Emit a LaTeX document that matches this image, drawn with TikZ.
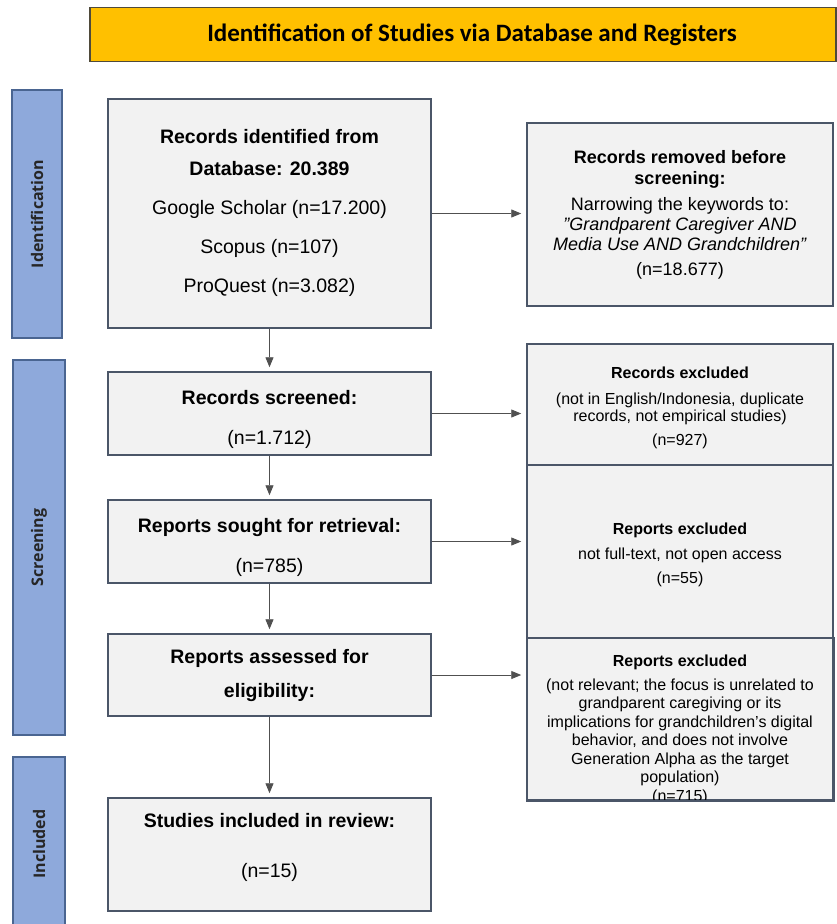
\documentclass[tikz,border=0pt]{standalone}
\usepackage{fontspec}
\setmainfont{Liberation Sans}
\newfontfamily\calibri{Carlito}
\newfontfamily\opensans{Open Sans}
\usetikzlibrary{arrows.meta}

\definecolor{bannergold}{HTML}{FFC000}
\definecolor{bannerrand}{HTML}{4F4A3A}
\definecolor{balkenblau}{HTML}{8EA9DB}
\definecolor{balkenrand}{HTML}{4A6591}
\definecolor{kastengrau}{HTML}{F2F2F2}
\definecolor{kastenrand}{HTML}{4B5668}
\definecolor{pfeilgrau}{HTML}{505050}

\tikzset{
  kasten/.style={draw=kastenrand, line width=1.5pt, fill=kastengrau, align=center, inner sep=0pt},
  balken/.style={draw=balkenrand, line width=1.5pt, fill=balkenblau, rotate=90, inner sep=0pt,
    font=\opensans\bfseries\fontsize{16}{18}\selectfont, text=black!85},
  pfeil/.style={-{Triangle[length=10pt,width=8pt]}, line width=0.9pt, draw=pfeilgrau, fill=black},
  linksfont/.style={font=\fontsize{19.5}{39}\selectfont},
  rechtsfont/.style={font=\fontsize{16}{18.5}\selectfont},
}

\begin{document}
\begin{tikzpicture}[x=1pt,y=-1pt]
\clip (0,0) rectangle (837,924);

%KOPFZEILE
\node [draw=bannerrand, line width=1.5pt, fill=bannergold, minimum width=746, minimum height=54,
  font=\calibri\bfseries\fontsize{25}{28}\selectfont] (titel) at (463,34.5)
  {\hspace*{18pt}Identification of Studies via Database and Registers};

%BALKEN LINKS (von oben)
\node [balken, minimum width=248, minimum height=50] (bident) at (37,214) {Identification};
\node [balken, minimum width=375, minimum height=52] (bscreen) at (39,547.5) {Screening};
\node [balken, minimum width=174, minimum height=52] (binclud) at (39,844) {Included};

%LINKE SPALTE, KASTEN NR. 0 (von oben)
\node [kasten, linksfont, minimum width=323, minimum height=229] (ident) at (269.5,213.5)
  {\textbf{Records identified from}\\[-7pt] \textbf{Database: 20.389}\\
   Google Scholar (n=17.200)\\ Scopus (n=107)\\ ProQuest (n=3.082)\\[-33pt]\mbox{}};

%LINKE SPALTE, KASTEN NR. 1 (von oben)
\node [kasten, linksfont, minimum width=323, minimum height=83] (screen) at (269.5,413.5)
  {\mbox{}\\[-13pt]\textbf{Records screened:}\\[1pt] (n=1.712)};

%LINKE SPALTE, KASTEN NR. 2 (von oben)
\node [kasten, linksfont, minimum width=323, minimum height=83] (sought) at (269.5,541.5)
  {\mbox{}\\[-13pt]\textbf{Reports sought for retrieval:}\\[1pt] (n=785)};

%LINKE SPALTE, KASTEN NR. 3 (von oben)
\node [kasten, linksfont, minimum width=323, minimum height=82] (assess) at (269.5,675)
  {\textbf{Reports assessed for}\\[-5pt] \textbf{eligibility:}};

%LINKE SPALTE, KASTEN NR. 4 (von oben)
\node [kasten, linksfont, minimum width=323, minimum height=113] (includ) at (269.5,854.5)
  {\textbf{Studies included in review:}\\[11pt] (n=15)\\[-21pt]\mbox{}};

%RECHTE SPALTE, KASTEN NR. 0 (von oben)
\node [kasten, font=\fontsize{18}{20.5}\selectfont, minimum width=306, minimum height=183] (removed) at (680,214.5)
  {\textbf{Records removed before}\\[0.5pt] \textbf{screening:}\\[5.5pt] Narrowing the keywords to:\\[-0.5pt]
   \textit{"Grandparent Caregiver AND}\\[-0.5pt] \textit{Media Use AND Grandchildren"}\\[4.5pt] (n=18.677)};

%RECHTE SPALTE, KASTEN NR. 1 (von oben)
\node [kasten, rechtsfont, minimum width=306, minimum height=121] (excla) at (680,404.5)
  {\textbf{Records excluded}\\[7pt] (not in English/Indonesia, duplicate\\[-1.5pt] records, not empirical studies)\\[5.5pt] (n=927)\\[-22pt]\mbox{}};

%RECHTE SPALTE, KASTEN NR. 2 (von oben)
\node [kasten, rechtsfont, minimum width=306, minimum height=173] (exclb) at (680,551.5)
  {\mbox{}\\[-1pt]\textbf{Reports excluded}\\[6.5pt] not full-text, not open access\\[5.5pt] (n=55)};

%RECHTE SPALTE, KASTEN NR. 3 (von oben)
\node [kasten, minimum width=306, minimum height=162] (exclc) at (680,719) {};
\begin{scope}
\clip (exclc.north west) rectangle (exclc.south east);
\node [rechtsfont, align=center] (exclctext) at (680,730)
  {\textbf{Reports excluded}\\[5pt] (not relevant; the focus is unrelated to\\ grandparent caregiving or its\\
   implications for grandchildren’s digital\\ behavior, and does not involve\\
   Generation Alpha as the target\\ population)\\ (n=715)};
\end{scope}
\draw [kastenrand, line width=1.5pt] (exclc.north west) rectangle (exclc.south east);

%PFEILE NACH UNTEN
\draw [pfeil, shorten >=4pt] (ident) -- (screen);
\draw [pfeil, shorten >=4pt] (screen) -- (sought);
\draw [pfeil, shorten >=4pt] (sought) -- (assess);
\draw [pfeil, shorten >=4pt] (assess) -- (includ);

%PFEILE NACH RECHTS
\draw [pfeil, shorten >=5pt] (ident.east) -- (ident.east -| removed.west);
\draw [pfeil, shorten >=5pt] (screen.east) -- (screen.east -| excla.west);
\draw [pfeil, shorten >=5pt] (sought.east) -- (sought.east -| exclb.west);
\draw [pfeil, shorten >=5pt] (assess.east) -- (assess.east -| exclc.west);

\end{tikzpicture}
\end{document}
